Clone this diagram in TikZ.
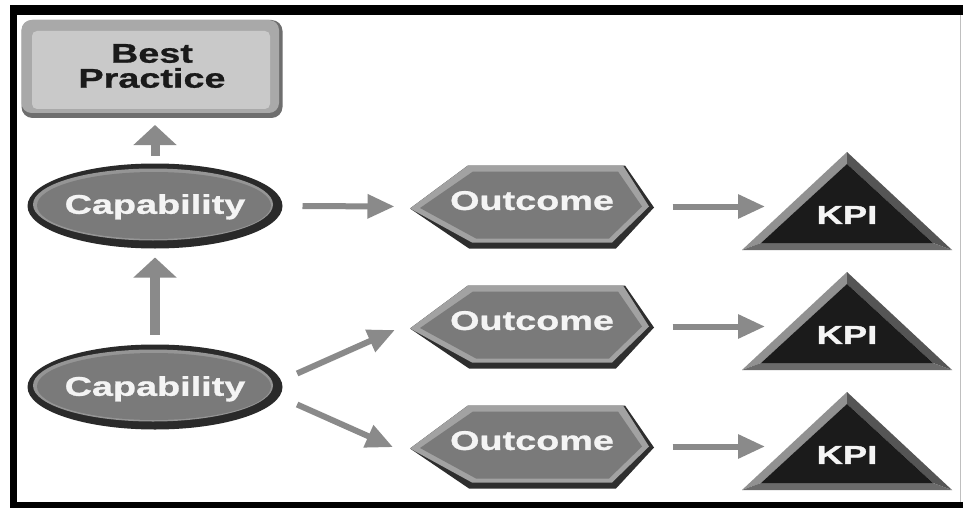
\documentclass[tikz,border=0pt]{standalone}
\usepackage{fontspec}
\newfontfamily\heavyfont[FakeStretch=1.4,FakeBold=1]{Liberation Sans}
\usetikzlibrary{arrows.meta,calc,shapes.geometric}
\pgfdeclarelayer{background}
\pgfsetlayers{background,main}

\definecolor{arrowgray}{HTML}{8A8A8A}
\definecolor{bpdark}{HTML}{6E6E6E}
\definecolor{bplight}{HTML}{A9A9A9}
\definecolor{bpface}{HTML}{C9C9C9}
\definecolor{capring}{HTML}{2A2A2A}
\definecolor{caprim}{HTML}{959595}
\definecolor{capface}{HTML}{7A7A7A}
\definecolor{hexdark}{HTML}{2E2E2E}
\definecolor{hexlight}{HTML}{A2A2A2}
\definecolor{hexface}{HTML}{7A7A7A}
\definecolor{kpileft}{HTML}{919191}
\definecolor{kpiright}{HTML}{555555}
\definecolor{kpibottom}{HTML}{6B6B6B}
\definecolor{kpiface}{HTML}{1B1B1B}
\definecolor{labelwhite}{HTML}{F4F4F4}
\definecolor{labelblack}{HTML}{1A1A1A}

\begin{document}
\begin{tikzpicture}[x=1pt,y=-1pt,
  shapebox/.style={draw=none,inner sep=0pt,outer sep=0pt},
  bpbox/.style={shapebox,minimum width=261pt,minimum height=98pt},
  capbox/.style={shapebox,ellipse,minimum width=255pt,minimum height=85pt},
  outbox/.style={shapebox,minimum width=245pt,minimum height=83pt},
  kpibox/.style={shapebox,minimum width=210pt,minimum height=98pt},
  lbl/.style={inner sep=0pt,text depth=0pt,text=labelwhite},
  caplabel/.style={lbl,font=\heavyfont\bfseries\fontsize{27}{27}\selectfont},
  outlabel/.style={lbl,font=\heavyfont\bfseries\fontsize{27}{27}\selectfont},
  kpilabel/.style={lbl,font=\heavyfont\bfseries\fontsize{26}{26}\selectfont},
  bplabel/.style={inner sep=0pt,align=center,text=labelblack,
    font=\heavyfont\bfseries\fontsize{27}{25}\selectfont},
  arr/.style={draw=arrowgray,line width=6pt,-{Triangle[length=27pt,width=23pt]}},
  uparr/.style={draw=arrowgray,line width=10pt,-{Triangle[length=20pt,width=42pt]}},
  smalluparr/.style={draw=arrowgray,line width=9pt,-{Triangle[length=20pt,width=42pt]}},
  pics/bestbox/.style={code={
    \fill[bpdark,rounded corners=11pt] (-130.5,-49) rectangle (130.5,49);
    \fill[bplight,rounded corners=10pt] (-130.5,-49) rectangle (127,44);
    \fill[bpface,rounded corners=5pt] (-120,-38) rectangle (118,40);
  }},
  pics/capshape/.style={code={
    \fill[capring] (0,0) ellipse [x radius=127.5,y radius=42.5];
    \fill[caprim] (-2,-1.5) ellipse [x radius=120,y radius=36];
    \fill[capface] (-1,-0.5) ellipse [x radius=117,y radius=33.5];
  }},
  pics/hexshape/.style={code={
    \fill[hexdark] (-122,2) -- (-64,-41) -- (93,-41) -- (122,1) -- (84,42) -- (-63,42) -- cycle;
    \fill[hexlight] (-122,2) -- (-64,-41) -- (91,-41) -- (117,0) -- (80,36) -- (-60,36) -- cycle;
    \fill[hexface] (-112,1.5) -- (-59,-35) -- (86,-35) -- (110,0) -- (77,32) -- (-56,32) -- cycle;
  }},
  pics/kpishape/.style={code={
    \fill[kpileft] (0,-49) -- (-105,49) -- (-86,42) -- (0,-37) -- cycle;
    \fill[kpiright] (0,-49) -- (105,49) -- (86,42) -- (0,-37) -- cycle;
    \fill[kpibottom] (-105,49) -- (105,49) -- (86,42) -- (-86,42) -- cycle;
    \fill[kpiface] (0,-37) -- (-86,42) -- (86,42) -- cycle;
  }},
]
\useasboundingbox (0,0) rectangle (963,508);

% shape placeholders
\node[bpbox] (bp) at (152,69) {};
\node[capbox] (cap1) at (155,206) {};
\node[capbox] (cap2) at (155,387) {};
\node[outbox] (out1) at (532,206.5) {};
\node[outbox] (out2) at (532,326.5) {};
\node[outbox] (out3) at (532,446.5) {};
\node[kpibox] (kpi1) at (847,201) {};
\node[kpibox] (kpi2) at (847,321) {};
\node[kpibox] (kpi3) at (847,441) {};

% canvas, frame and bevelled shapes behind the labels
\begin{pgfonlayer}{background}
  \fill[white] (0,0) rectangle (963,508);
  \fill[black] (10,5) rectangle (17,508);
  \fill[black] (10,5) rectangle (963,15);
  \fill[black] (10,502) rectangle (963,508);
  \draw[black!25,line width=0.8pt] (960,15) -- (960,502);
  \pic at (bp.center) {bestbox};
  \pic at (cap1.center) {capshape};
  \pic at (cap2.center) {capshape};
  \foreach \o in {out1,out2,out3} \pic at (\o.center) {hexshape};
  \foreach \k in {kpi1,kpi2,kpi3} \pic at (\k.center) {kpishape};
\end{pgfonlayer}

% labels
\node[bplabel] (bpt) at ([yshift=3pt]bp.center) {Best\\Practice};
\node[caplabel] (cap1t) at ([yshift=2pt]cap1.center) {Capability};
\node[caplabel] (cap2t) at ([yshift=1pt]cap2.center) {Capability};
\node[outlabel] (out1t) at ([yshift=6pt]out1.center) {Outcome};
\node[outlabel] (out2t) at ([yshift=6pt]out2.center) {Outcome};
\node[outlabel] (out3t) at ([yshift=6pt]out3.center) {Outcome};
\node[kpilabel] (kpi1t) at ([yshift=-14pt]kpi1.center) {KPI};
\node[kpilabel] (kpi2t) at ([yshift=-14pt]kpi2.center) {KPI};
\node[kpilabel] (kpi3t) at ([yshift=-14pt]kpi3.center) {KPI};

% connectors
\draw[smalluparr,shorten <=8pt,shorten >=7pt] (cap1.north) -- (cap1.north |- bp.south);
\draw[uparr,shorten <=10pt,shorten >=9pt] (cap2.north) -- (cap1.south);
\draw[arr,shorten <=20pt,shorten >=15pt] (cap1.east) -- (out1.west);
\draw[arr,shorten <=16pt,shorten >=16pt] ([yshift=7pt]cap2.east) -- ([yshift=3pt]out2.west);
\draw[arr,shorten <=16pt,shorten >=18pt] ([yshift=-11pt]cap2.east) -- ([yshift=-8pt]out3.west);
\foreach \o/\k in {out1/kpi1,out2/kpi2,out3/kpi3}
  \draw[arr,shorten <=18pt] (\o.east) -- ($(\o.east -| \k.west)+(23,0)$);
\end{tikzpicture}
\end{document}
